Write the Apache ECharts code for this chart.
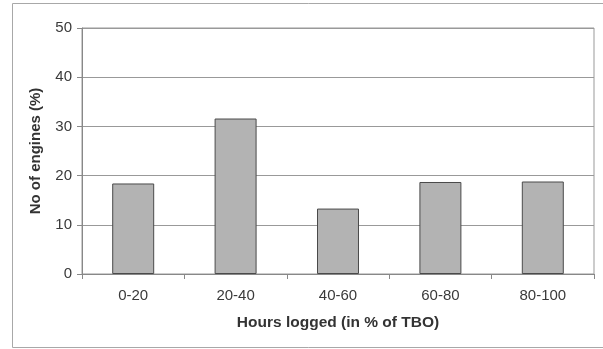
<!DOCTYPE html>
<html>
<head>
<meta charset="utf-8">
<script src="https://cdn.jsdelivr.net/npm/echarts@6/dist/echarts.min.js"></script>
<style>
html,body{margin:0;padding:0;background:#fff;}
#c{width:603px;height:349px;}
</style>
</head>
<body>
<div id="c"></div>
<script>
var categories = ['0-20', '20-40', '40-60', '60-80', '80-100'];
var engines = [18.4, 31.6, 13.3, 18.7, 18.8];
var yTicks = [0, 10, 20, 30, 40, 50];

var chart = echarts.init(document.getElementById('c'));
var font = '"Liberation Sans", Arial, sans-serif';
chart.setOption({
  animation: false,
  textStyle: { fontFamily: font },
  graphic: [{
    type: 'rect', silent: true, z: -1,
    shape: { x: 12.5, y: 3.5, width: 600, height: 344 },
    style: { fill: 'none', stroke: '#a8a8a8', lineWidth: 1 }
  }],
  grid: { left: 82, right: 9, top: 28, bottom: 75, show: true, borderColor: '#999', borderWidth: 1 },
  xAxis: {
    type: 'category',
    data: categories,
    name: 'Hours logged (in % of TBO)',
    nameLocation: 'middle',
    nameGap: 41,
    nameTextStyle: { fontFamily: font, fontSize: 15.5, fontWeight: 'bold', color: '#333' },
    axisLine: { lineStyle: { color: '#888' } },
    axisTick: { show: true, length: 5, lineStyle: { color: '#888' } },
    axisLabel: { fontFamily: font, fontSize: 15, color: '#3a3a3a', margin: 14 }
  },
  yAxis: {
    type: 'value',
    min: yTicks[0],
    max: yTicks[yTicks.length - 1],
    interval: 10,
    name: 'No of engines (%)',
    nameLocation: 'middle',
    nameGap: 39,
    nameTextStyle: { fontFamily: font, fontSize: 15, fontWeight: 'bold', color: '#333' },
    axisLine: { show: true, lineStyle: { color: '#888' } },
    axisTick: { show: true, length: 5, lineStyle: { color: '#888' } },
    axisLabel: { fontFamily: font, fontSize: 15, color: '#3a3a3a', margin: 10 },
    splitLine: { lineStyle: { color: '#999', width: 1 } }
  },
  series: [{
    type: 'bar',
    data: engines,
    barWidth: '41%',
    itemStyle: { color: '#b3b3b3', borderColor: '#4a4a4a', borderWidth: 1 }
  }]
});
</script>
</body>
</html>
